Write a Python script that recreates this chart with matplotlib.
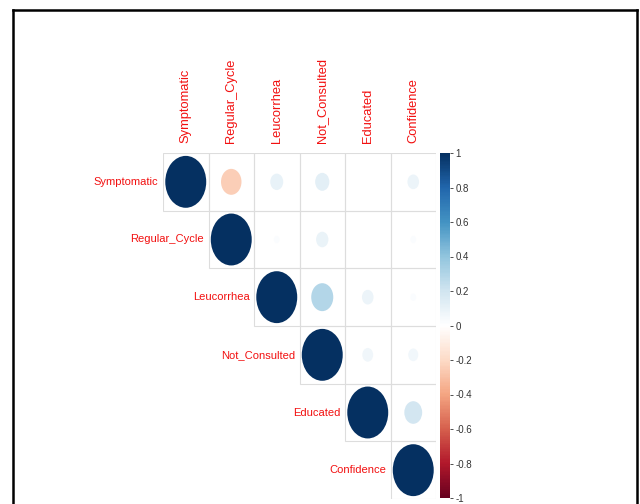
import numpy as np
import matplotlib
matplotlib.use("Agg")
import matplotlib.pyplot as plt
from matplotlib.patches import Circle, Rectangle
from matplotlib.colors import LinearSegmentedColormap, Normalize
from matplotlib.cm import ScalarMappable
from matplotlib.lines import Line2D

# variable names
labels = ["Symptomatic", "Regular_Cycle", "Leucorrhea",
          "Not_Consulted", "Educated", "Confidence"]

# correlation matrix (upper triangle is what gets drawn)
corr = [
    [1.00, -0.25, 0.10, 0.12, 0.00, 0.08],
    [-0.25, 1.00, 0.02, 0.09, 0.00, 0.02],
    [0.10, 0.02, 1.00, 0.29, 0.08, 0.02],
    [0.12, 0.09, 0.29, 1.00, 0.07, 0.06],
    [0.00, 0.00, 0.08, 0.07, 1.00, 0.19],
    [0.08, 0.02, 0.02, 0.06, 0.19, 1.00],
]

cbar_ticks = [-1, -0.8, -0.6, -0.4, -0.2, 0, 0.2, 0.4, 0.6, 0.8, 1]

# corrplot-style RdBu palette
cmap = LinearSegmentedColormap.from_list("corr_rdbu", [
    "#67001F", "#B2182B", "#D6604D", "#F4A582", "#FDDBC7", "#FFFFFF",
    "#D1E5F0", "#92C5DE", "#4393C3", "#2166AC", "#053061"])
norm = Normalize(-1, 1)

W, H = 640, 504
fig = plt.figure(figsize=(W / 100, H / 100), dpi=100)
plt.rcParams['font.family'] = ['Liberation Sans', 'DejaVu Sans']

# frame around the picture (no bottom edge)
frame_kw = dict(color="black", lw=1.8, transform=fig.transFigure)
fig.add_artist(Line2D([13 / W, 13 / W], [0, 1 - 10 / H], **frame_kw))
fig.add_artist(Line2D([13 / W, 637 / W], [1 - 10 / H, 1 - 10 / H], **frame_kw))
fig.add_artist(Line2D([637 / W, 637 / W], [0, 1 - 10 / H], **frame_kw))

# main grid axes in pixel position
x0, x1, y0, y1 = 163, 436, 153, 499
ax = fig.add_axes([x0 / W, 1 - y1 / H, (x1 - x0) / W, (y1 - y0) / H])
n = len(labels)
ax.set_xlim(0, n)
ax.set_ylim(n, 0)
ax.axis("off")

m = np.array(corr)
for i in range(n):
    for j in range(i, n):
        ax.add_patch(Rectangle((j, i), 1, 1, fill=False,
                               edgecolor="#DDDDDD", lw=0.8))
        r = m[i, j]
        rad = 0.45 * np.sqrt(abs(r))
        if rad > 0:
            ax.add_patch(Circle((j + 0.5, i + 0.5), rad,
                                facecolor=cmap(norm(r)), edgecolor="none"))

red = "#F21010"
for i, name in enumerate(labels):
    ax.text(i - 0.1, i + 0.5, name, ha="right", va="center",
            color=red, fontsize=8, clip_on=False)
    ax.text(i + 0.5, -0.17, name, ha="center", va="bottom", rotation=90,
            color=red, fontsize=9.3, clip_on=False)

# colour bar
cax = fig.add_axes([440 / W, 1 - 498 / H, 10 / W, (498 - 153) / H])
sm = ScalarMappable(norm=norm, cmap=cmap)
cb = fig.colorbar(sm, cax=cax, ticks=cbar_ticks)
cb.outline.set_visible(False)
cb.ax.set_yticklabels([f"{t:g}" for t in cbar_ticks])
cb.ax.tick_params(labelsize=7, length=2, width=0.6, colors="#333333", pad=2)

fig.savefig("out.png", dpi=100)
